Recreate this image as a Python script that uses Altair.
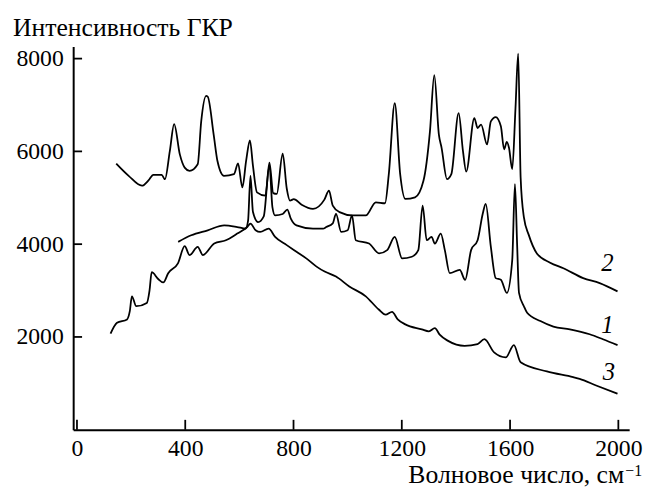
import altair as alt
import pandas as pd

# ---- data ----
c2_x = [145, 191, 240, 265, 282, 313, 325, 343, 359, 380, 398, 416, 446, 459, 477, 483, 505, 519, 543, 580,
        595, 611, 625, 639, 650, 665, 696, 711, 725, 738, 760, 775, 787, 801, 830, 872, 914, 931, 945, 970,
        1018, 1067, 1104, 1138, 1152, 1174, 1194, 1213, 1249, 1280, 1304, 1320, 1337, 1347, 1367, 1383, 1410,
        1426, 1438, 1468, 1480, 1493, 1515, 1529, 1547, 1566, 1578, 1588, 1596, 1608, 1620, 1630, 1639, 1651,
        1669, 1699, 1748, 1797, 1870, 1931, 1997]
c2_y = [5737, 5473, 5260, 5380, 5495, 5495, 5400, 6006, 6590, 5935, 5650, 5580, 5722, 6647, 7195, 7180, 6363,
        5793, 5473, 5509, 5744, 5224, 5800, 6235, 5700, 5117, 5046, 5760, 5100, 5082, 5950, 5200, 4940, 4970,
        4850, 4762, 4960, 5153, 4832, 4690, 4619, 4619, 4903, 4882, 5509, 7038, 5509, 4975, 5010, 5366, 6433,
        7644, 6363, 6077, 5402, 5509, 6824, 6006, 5565, 6718, 6504, 6576, 6149, 6647, 6739, 6540, 6043, 6205,
        6077, 5616, 6931, 8105, 5437, 4583, 4200, 3801, 3601, 3481, 3268, 3161, 2982]

c1_x = [374, 422, 483, 544, 592, 623, 632, 641, 650, 669, 690, 711, 722, 732, 760, 777, 790, 811, 872, 909,
        921, 945, 957, 976, 1000, 1016, 1030, 1079, 1116, 1146, 1174, 1201, 1237, 1261, 1277, 1292, 1310,
        1322, 1344, 1359, 1377, 1414, 1434, 1456, 1480, 1499, 1510, 1529, 1547, 1566, 1588, 1608, 1618, 1626,
        1633, 1651, 1663, 1712, 1760, 1821, 1894, 1943, 1997]
c1_y = [4050, 4192, 4299, 4406, 4370, 4335, 4500, 5473, 4700, 4477, 4600, 5700, 4800, 4619, 4650, 4747, 4550,
        4405, 4335, 4335, 4370, 4450, 4655, 4263, 4299, 4619, 4085, 4014, 3801, 3872, 4156, 3695, 3729, 3872,
        4832, 4085, 4156, 4014, 4228, 3872, 3375, 3445, 3231, 3872, 4085, 4655, 4869, 3942, 3268, 3231, 2948,
        3658, 5295, 4000, 2950, 2662, 2521, 2342, 2222, 2164, 2058, 1951, 1823]

c3_x = [124, 148, 185, 195, 203, 219, 258, 268, 276, 300, 319, 337, 373, 398, 416, 446, 465, 507, 550, 592,
        629, 641, 660, 677, 708, 732, 775, 811, 847, 885, 915, 957, 1006, 1067, 1115, 1140, 1164, 1185, 1213,
        1274, 1300, 1322, 1340, 1371, 1432, 1480, 1505, 1541, 1584, 1614, 1639, 1736, 1833, 1857, 1918, 1997]
c3_y = [2072, 2307, 2378, 2550, 2875, 2662, 2733, 3000, 3395, 3250, 3174, 3374, 3587, 3957, 3765, 3943, 3765,
        4015, 4085, 4228, 4370, 4441, 4300, 4263, 4335, 4156, 3979, 3836, 3694, 3516, 3409, 3302, 3089, 2876,
        2591, 2480, 2540, 2380, 2271, 2164, 2120, 2190, 2050, 1915, 1808, 1844, 1951, 1667, 1560, 1823, 1454,
        1257, 1133, 1097, 954, 777]

label_text = ["2", "1", "3"]
label_x = [1960, 1960, 1965]
label_y = [3584, 2250, 1247]

x_ticks = [0, 400, 800, 1200, 1600, 2000]
y_ticks = [2000, 4000, 6000, 8000]

# ---- build tables ----
rows = []
for name, xs_, ys_ in (("1", c1_x, c1_y), ("2", c2_x, c2_y), ("3", c3_x, c3_y)):
    for i, (a, b) in enumerate(zip(xs_, ys_)):
        rows.append({"series": name, "order": i, "x": a, "y": b})
df = pd.DataFrame(rows)
labels = pd.DataFrame({"t": label_text, "x": label_x, "y": label_y})

W, H = 563, 388
FONT = "'Liberation Serif', 'DejaVu Serif', 'Times New Roman', serif"
xs = alt.Scale(domain=[-14, 2040], nice=False, zero=False)
ys = alt.Scale(domain=[0, 8260], nice=False, zero=False)

lines = alt.Chart(df).mark_line(color="black", strokeWidth=1.8, strokeJoin="round",
                                interpolate="monotone").encode(
    x=alt.X("x:Q", scale=xs, axis=alt.Axis(values=x_ticks, title=None, labelPadding=7, format="d")),
    y=alt.Y("y:Q", scale=ys, axis=alt.Axis(values=y_ticks, title=None, labelPadding=10, format="d")),
    detail="series:N",
    order="order:Q",
)

xtick = alt.Chart(pd.DataFrame({"v": x_ticks})).mark_rule(color="black", strokeWidth=1.8).encode(
    x=alt.X("v:Q", scale=xs), y=alt.value(H), y2=alt.value(H - 10)
)
ytick = alt.Chart(pd.DataFrame({"v": y_ticks})).mark_rule(color="black", strokeWidth=1.8).encode(
    y=alt.Y("v:Q", scale=ys), x=alt.value(0), x2=alt.value(9)
)

curve_labels = alt.Chart(labels).mark_text(font=FONT, fontSize=25, fontStyle="italic",
                                           align="center", baseline="middle", color="black").encode(
    x=alt.X("x:Q", scale=xs), y=alt.Y("y:Q", scale=ys), text="t:N"
)

ytitle = alt.Chart(pd.DataFrame({"t": ["Интенсивность ГКР"]})).mark_text(
    font=FONT, fontSize=26, align="left", baseline="alphabetic", color="black").encode(
    text="t:N", x=alt.value(-61), y=alt.value(-11))
xtitle = alt.Chart(pd.DataFrame({"t": ["Волновое число, см"]})).mark_text(
    font=FONT, fontSize=26, align="right", baseline="alphabetic", color="black").encode(
    text="t:N", x=alt.value(558), y=alt.value(442))
xsup = alt.Chart(pd.DataFrame({"t": ["−1"]})).mark_text(
    font=FONT, fontSize=16, align="left", baseline="alphabetic", color="black").encode(
    text="t:N", x=alt.value(559), y=alt.value(435))

chart = alt.layer(lines, xtick, ytick, curve_labels, ytitle, xtitle, xsup).properties(
    width=W, height=H,
    autosize=alt.AutoSizeParams(type="none"),
    padding={"left": 66, "top": 36, "right": 14, "bottom": 58},
    background="white",
).configure_view(stroke=None).configure_axis(
    grid=False, ticks=False, tickSize=0, domainColor="black", domainWidth=2,
    labelFont=FONT, labelFontSize=24, labelColor="black",
)

chart.save("out.html", embed_options={"renderer": "svg", "actions": False})
